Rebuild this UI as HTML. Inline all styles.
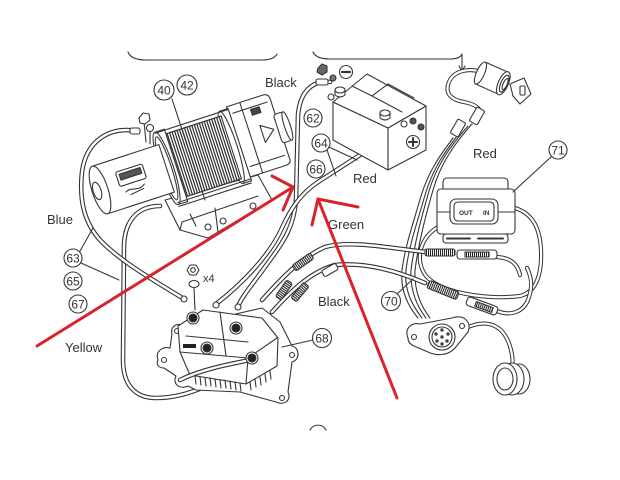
<!DOCTYPE html>
<html><head><meta charset="utf-8"><style>
html,body{margin:0;padding:0;background:#fff;}
svg{display:block;}
text{font-family:"Liberation Sans",Arial,sans-serif;fill:#333;}
</style></head><body>
<svg width="620" height="480" viewBox="0 0 620 480" xmlns="http://www.w3.org/2000/svg">
<defs>
<pattern id="h" width="2.6" height="8" patternUnits="userSpaceOnUse"><rect width="2.6" height="8" fill="#fff"/><line x1="0.7" y1="0" x2="0.7" y2="8" stroke="#2a2a2a" stroke-width="1.2"/></pattern>
<pattern id="hc" width="2" height="4" patternUnits="userSpaceOnUse"><rect width="2" height="4" fill="#fff"/><line x1="0.5" y1="0" x2="0.5" y2="4" stroke="#222" stroke-width="1.1"/></pattern>
<path id="cBlue" d="M137,131 C108,126 86,142 82,172 C79,200 84,222 100,240 C122,263 160,284 184,299"/>
<path id="cYel" d="M160,206 C138,206 125,220 124,245 L123,360 C123,386 136,398 156,398 C190,398 222,380 250,360"/>
<path id="cBlk" d="M330,82 C312,80 300,92 298,115 L296,200 C294,225 285,240 270,260 C256,280 245,292 238,306"/>
<path id="cRed" d="M402,128 L318,182 C300,194 290,210 282,228 C270,255 242,284 216,304"/>
<path id="cUp" d="M262,300 C280,280 300,258 325,247 C350,240 390,248 425,252"/>
<path id="cLo" d="M272,312 C290,292 310,272 335,265 C365,262 395,270 425,283"/>
<path id="cLoop" d="M440,226 C420,236 414,260 426,276 C442,294 490,300 520,296 C536,292 542,275 541,250 C540,230 534,214 515,208"/>
<path id="cRem" d="M497,257 C512,258 518,265 520,275"/>
<path id="cRem2" d="M497,311 C512,317 525,311 529,297 C533,285 531,276 527,268"/>
<path id="cKey" d="M481,72 C470,68 454,70 449,82 C444,94 452,100 464,102 C474,104 482,108 480,116"/>
<path id="cPlug" d="M466,328 C488,318 505,325 511,350 C513,358 513,362 512,366"/>
</defs>
<rect width="620" height="480" fill="#fff"/>
<g fill="none" stroke="#363636" stroke-width="1.1" stroke-linejoin="round" stroke-linecap="round">
<!-- braces -->
<path d="M128,52 Q131,60 146,60 L262,60 Q274,60 277,54"/>
<path d="M313,52 Q316,59 330,59 L450,59 Q460,59 462,54 L462,70"/>
<path d="M459,66 L462,71 L465,66"/>

<!-- yellow cable -->
<use href="#cYel" stroke="#333" stroke-width="4.6"/>
<use href="#cYel" stroke="#fff" stroke-width="2.4"/>

<!-- mount foot -->
<path d="M165,200 L258,175 L272,200 L208,238 L180,230 Z" fill="#fff"/>
<path d="M180,230 L182,222 L258,196"/>

<!-- winch -->
<g transform="translate(100,190) rotate(-18)">
 <path d="M146,-40 L184,-40 Q190,-40 190,-34 L190,30 Q190,34 184,34 L146,34 Z" fill="#fff"/>
 <rect x="188" y="-18" width="10" height="30" rx="3" fill="#fff"/>
 <ellipse cx="198" cy="-3" rx="3" ry="15" fill="#fff"/>
 <path d="M150,-32 L186,-32 M150,24 L186,24 M160,-40 L160,34"/>
 <rect x="168" y="-30" width="9" height="6" fill="#444"/>
 <path d="M172,-12 L184,-4 L172,6 Z"/>
 <rect x="138" y="-38" width="9" height="76" fill="#fff"/>
 <ellipse cx="138" cy="0" rx="6" ry="38" fill="#fff"/>
 <rect x="80" y="-33" width="58" height="66" fill="url(#h)"/>
 <path d="M80,-33 L138,-33 M80,33 L138,33"/>
 <rect x="70" y="-38" width="10" height="76" fill="#fff"/>
 <ellipse cx="70" cy="0" rx="7" ry="38" fill="#fff"/>
 <ellipse cx="70" cy="0" rx="5" ry="33"/>
 <path d="M70,-37 L146,-37 M70,36 L146,36 M70,40 L146,40"/>
 <rect x="0" y="-25" width="70" height="50" fill="#fff"/>
 <ellipse cx="0" cy="0" rx="8" ry="25" fill="#fff"/>
 <ellipse cx="-3" cy="0" rx="4" ry="9" fill="#fff"/>
 <rect x="20" y="-12" width="28" height="15" rx="2" fill="#fff"/>
 <rect x="23" y="-9" width="22" height="6" fill="#555"/>
 <path d="M24,10 C30,6 36,14 44,8 M28,14 L42,12"/>
</g>
<circle cx="208" cy="227" r="3" fill="#fff"/>
<circle cx="223" cy="221" r="3" fill="#fff"/>
<circle cx="253" cy="206" r="3" fill="#fff"/>
<path d="M215,208 L218,232 M190,214 L196,226"/>
<!-- motor terminals -->
<path d="M146,142 L144,122 M150,144 L150,130"/>
<path d="M139,118 L143,113 L149,114 L150,120 L145,124 L140,123 Z" fill="#fff"/>
<circle cx="150" cy="128" r="3.5" fill="#fff"/>

<!-- blue cable -->
<use href="#cBlue" stroke="#333" stroke-width="4.6"/>
<use href="#cBlue" stroke="#fff" stroke-width="2.4"/>
<rect x="130" y="128" width="10" height="6" rx="2" fill="#fff"/>

<!-- black & red cables -->
<use href="#cBlk" stroke="#333" stroke-width="4.6"/>
<use href="#cBlk" stroke="#fff" stroke-width="2.4"/>
<use href="#cRed" stroke="#333" stroke-width="4.6"/>
<use href="#cRed" stroke="#fff" stroke-width="2.4"/>

<!-- battery -->
<path d="M333,102 L388,128 L388,170 L333,140 Z" fill="#fff"/>
<path d="M388,128 L426,106 L426,150 L388,170 Z" fill="#fff"/>
<path d="M333,102 L367,74 L426,106 L388,128 Z" fill="#fff"/>
<path d="M352,86 L372,96 L388,84 M372,96 L402,112 M388,84 L414,98"/>
<path d="M335,90 L335,95 Q340,99 345,95 L345,90" fill="#fff"/>
<ellipse cx="340" cy="90" rx="5" ry="3" fill="#fff"/>
<circle cx="331" cy="97" r="3" fill="#fff"/>
<path d="M380,113 L380,118 Q385,122 390,118 L390,113" fill="#fff"/>
<ellipse cx="385" cy="113" rx="5" ry="3" fill="#fff"/>
<circle cx="404" cy="124" r="3" fill="#fff"/>
<circle cx="413" cy="121" r="3" fill="#555"/>
<circle cx="421" cy="127" r="3" fill="#555"/>
<path d="M318,68 L322,64 L327,66 L327,72 L322,75 L317,72 Z" fill="#666"/>
<circle cx="333" cy="78" r="3" fill="#777"/>
<rect x="316" y="79" width="12" height="6" rx="2" fill="#fff"/>
<circle cx="346" cy="72" r="6.5" fill="#fff"/>
<path d="M342,72 L350,72" stroke-width="2.2"/>
<circle cx="413" cy="142" r="6.5" fill="#fff"/>
<path d="M409,142 L417,142 M413,138 L413,146" stroke-width="2"/>

<!-- key switch harness -->
<use href="#cKey" stroke="#333" stroke-width="4.2"/>
<use href="#cKey" stroke="#fff" stroke-width="2.2"/>
<path d="M472,124 C456,142 441,162 433,190 C426,215 419,240 415,270 C414,290 420,305 430,318"/>
<path d="M468,126 C452,144 437,164 429,191 C422,216 415,240 411,270 C410,290 416,305 426,318"/>
<path d="M457,136 C445,152 433,168 425,195 C418,220 409,245 406,270 C404,290 412,305 422,318"/>
<path d="M453,138 C441,154 429,170 421,196 C414,221 405,246 402,270 C400,290 408,306 418,318"/>
<rect x="-8" y="-4.5" width="16" height="9" rx="1.5" fill="#fff" transform="translate(477,116) rotate(-60)"/>
<rect x="-8" y="-4.5" width="16" height="9" rx="1.5" fill="#fff" transform="translate(458,128) rotate(-60)"/>
<g transform="translate(496,80) rotate(24)">
 <rect x="-17" y="-12" width="24" height="24" fill="#fff"/>
 <ellipse cx="-17" cy="0" rx="4" ry="12" fill="#fff"/>
 <ellipse cx="8" cy="0" rx="5" ry="12.5" fill="#fff"/>
 <ellipse cx="9" cy="0" rx="3.5" ry="9" fill="#fff"/>
 <ellipse cx="10" cy="0" rx="2" ry="6"/>
</g>
<path d="M510,84 L524,78 L531,94 L520,104 L513,96 Z" fill="#fff"/>
<rect x="520" y="86" width="5" height="9" rx="1" fill="#fff"/>

<!-- control wires -->
<use href="#cLoop" stroke="#333" stroke-width="4.2"/>
<use href="#cLoop" stroke="#fff" stroke-width="2.2"/>
<use href="#cUp" stroke="#333" stroke-width="4.6"/>
<use href="#cUp" stroke="#fff" stroke-width="2.4"/>
<use href="#cLo" stroke="#333" stroke-width="4.6"/>
<use href="#cLo" stroke="#fff" stroke-width="2.4"/>
<use href="#cRem" stroke="#333" stroke-width="4.2"/>
<use href="#cRem" stroke="#fff" stroke-width="2.2"/>
<use href="#cRem2" stroke="#333" stroke-width="4.2"/>
<use href="#cRem2" stroke="#fff" stroke-width="2.2"/>
<rect x="425" y="249" width="30" height="7" rx="2" fill="url(#hc)"/>
<rect x="457" y="250" width="40" height="9" rx="3" fill="#fff"/>
<rect x="465" y="252" width="24" height="5" fill="url(#hc)"/>
<rect x="-16" y="-4" width="32" height="8" rx="2" fill="url(#hc)" transform="translate(443,290) rotate(22)"/>
<rect x="-16" y="-4.5" width="32" height="9" rx="3" fill="#fff" transform="translate(482,306) rotate(20)"/>
<rect x="-9" y="-2.5" width="18" height="5" fill="url(#hc)" transform="translate(484,307) rotate(20)"/>
<rect x="-11" y="-3.5" width="22" height="7" rx="2" fill="url(#hc)" transform="translate(303,262) rotate(-35)"/>
<rect x="-10" y="-3.5" width="20" height="7" rx="2" fill="url(#hc)" transform="translate(284,290) rotate(-55)"/>
<rect x="-10" y="-3.5" width="20" height="7" rx="2" fill="url(#hc)" transform="translate(300,292) rotate(-50)"/>
<rect x="-8" y="-3.5" width="16" height="7" rx="2" fill="#fff" transform="translate(330,270) rotate(-30)"/>

<!-- remote -->
<rect x="443" y="178" width="65" height="14" rx="4" fill="#fff"/>
<rect x="437" y="189" width="78" height="45" rx="4" fill="#fff"/>
<path d="M437,212 L450,212 M498,212 L515,212"/>
<rect x="450" y="199" width="48" height="25" rx="6" fill="#fff"/>
<rect x="454" y="202" width="40" height="19" rx="4" fill="#fff"/>
<rect x="443" y="234" width="65" height="9" rx="3" fill="#fff"/>
<path d="M447,238.5 L470,238.5 M478,238.5 L503,238.5" stroke-width="2"/>

<!-- solenoid -->
<path d="M158,360 C155,352 162,346 170,348 L172,334 C170,326 178,322 184,326 L262,308 L280,322 L292,346 C300,348 300,360 292,362 L288,392 C292,400 284,406 276,402 L240,392 L196,390 L188,386 C180,390 172,384 176,376 L164,368 C158,368 156,364 158,360 Z" fill="#fff"/>
<circle cx="164" cy="360" r="2.5"/><circle cx="177" cy="331" r="2.5"/><circle cx="292" cy="355" r="2.5"/><circle cx="282" cy="398" r="2.5"/>
<path d="M178,326 L203,310 L262,318 L278,338 L277,366 L246,384 L190,375 L180,352 Z" fill="#fff"/>
<path d="M180,352 L248,358 L277,338 M248,358 L246,384 M220,312 L226,356 M186,336 L248,342"/>
<path d="M195,376 L196,384 M200,377 L201,385 M205,378 L206,386 M210,378 L211,386 M215,379 L216,387 M220,380 L221,388 M225,380 L226,388 M230,381 L231,389 M235,382 L236,390 M240,383 L241,391 M250,382 L251,390 M255,379 L256,387 M260,377 L261,385 M265,374 L266,382 M270,371 L271,379"/>
<rect x="183" y="344" width="13" height="4" fill="#222" stroke="none"/>
<path d="M180,380 C200,370 225,365 250,360" stroke="#333" stroke-width="4.6"/>
<path d="M180,380 C200,370 225,365 250,360" stroke="#fff" stroke-width="2.4"/>
<circle cx="193" cy="318" r="6" fill="#fff"/><circle cx="193" cy="318" r="4" fill="#222"/>
<circle cx="207" cy="348" r="6" fill="#fff"/><circle cx="207" cy="348" r="4" fill="#222"/>
<circle cx="236" cy="328" r="6" fill="#fff"/><circle cx="236" cy="328" r="4" fill="#222"/>
<circle cx="252" cy="358" r="6" fill="#fff"/><circle cx="252" cy="358" r="4" fill="#222"/>
<circle cx="184" cy="299" r="3" fill="#fff"/>
<circle cx="216" cy="305" r="3" fill="#fff"/>
<circle cx="238" cy="307" r="3" fill="#fff"/>
<!-- x4 nut -->
<path d="M187,270 L190,265 L196,265 L199,270 L196,275 L190,275 Z" fill="#fff"/>
<circle cx="193" cy="270" r="2.3"/>
<ellipse cx="194" cy="284" rx="5" ry="3.5" fill="#fff"/>
<path d="M194,288 L195,310"/>

<!-- plug -->
<use href="#cPlug" stroke="#333" stroke-width="4.2"/>
<use href="#cPlug" stroke="#fff" stroke-width="2.2"/>
<path d="M408,338 C404,328 412,322 420,324 L452,318 C464,314 472,322 468,332 L455,348 C448,356 436,356 428,352 L414,346 C410,344 408,342 408,338 Z" fill="#fff"/>
<circle cx="414" cy="337" r="2.5"/><circle cx="462" cy="326" r="2.5"/>
<circle cx="442" cy="337" r="13" fill="#fff"/>
<circle cx="442" cy="337" r="10"/>
<g fill="#444" stroke="none"><circle cx="442" cy="330" r="1.7"/><circle cx="436" cy="334" r="1.7"/><circle cx="448" cy="334" r="1.7"/><circle cx="437" cy="341" r="1.7"/><circle cx="447" cy="341" r="1.7"/><circle cx="442" cy="344" r="1.7"/><circle cx="442" cy="337" r="1.7"/></g>
<ellipse cx="519" cy="379" rx="11" ry="15" fill="#fff"/>
<ellipse cx="512" cy="379" rx="12" ry="16" fill="#fff"/>
<ellipse cx="505" cy="379" rx="12" ry="16" fill="#fff"/>
<ellipse cx="505" cy="379" rx="8" ry="11"/>

<!-- leaders -->
<path d="M172,99 L205,200"/>
<path d="M80,251 L93,228 M81,263 L119,280"/>
<path d="M329,147 L357,160 M327,150 L336,176"/>
<path d="M551,157 L513,192"/>
<path d="M397,294 L413,279"/>
<path d="M313,340 L282,347"/>
<path d="M310,430 A9,9 0 0 1 326,430"/>

<!-- label circles -->
<g fill="#fff">
<circle cx="164" cy="90" r="10"/><circle cx="187" cy="85" r="10"/>
<circle cx="313" cy="118" r="9"/><circle cx="321" cy="143" r="9"/><circle cx="316" cy="169" r="9"/>
<circle cx="558" cy="150" r="9"/>
<circle cx="73" cy="258" r="9"/><circle cx="73" cy="281" r="9"/><circle cx="78" cy="304" r="9"/>
<circle cx="391" cy="301" r="9.5"/><circle cx="322" cy="338" r="9.5"/>
</g>
</g>

<g font-size="12" text-anchor="middle">
<text x="164" y="94.5">40</text><text x="187" y="89.5">42</text>
<text x="313" y="122.5">62</text><text x="321" y="147.5">64</text><text x="316" y="173.5">66</text>
<text x="558" y="154.5">71</text>
<text x="73" y="262.5">63</text><text x="73" y="285.5">65</text><text x="78" y="308.5">67</text>
<text x="391" y="305.5">70</text><text x="322" y="342.5">68</text>
</g>
<g font-size="13">
<text x="265" y="87">Black</text>
<text x="47" y="224">Blue</text>
<text x="65" y="352">Yellow</text>
<text x="353" y="183">Red</text>
<text x="473" y="158">Red</text>
<text x="328" y="229">Green</text>
<text x="318" y="306">Black</text>
<text x="203" y="282" font-size="11">x4</text>
</g>
<text x="459" y="215" font-size="6.5" font-weight="bold">OUT</text>
<text x="483" y="215" font-size="6.5" font-weight="bold">IN</text>

<!-- red arrows -->
<g stroke="#d9232b" stroke-width="3" fill="none" stroke-linecap="round" stroke-linejoin="round">
<path d="M37,346 L293,187"/>
<path d="M272,176 L293,187 L283,210"/>
<path d="M397,398 L318,199"/>
<path d="M312,225 L318,199 L358,207"/>
</g>
</svg>
</body></html>
